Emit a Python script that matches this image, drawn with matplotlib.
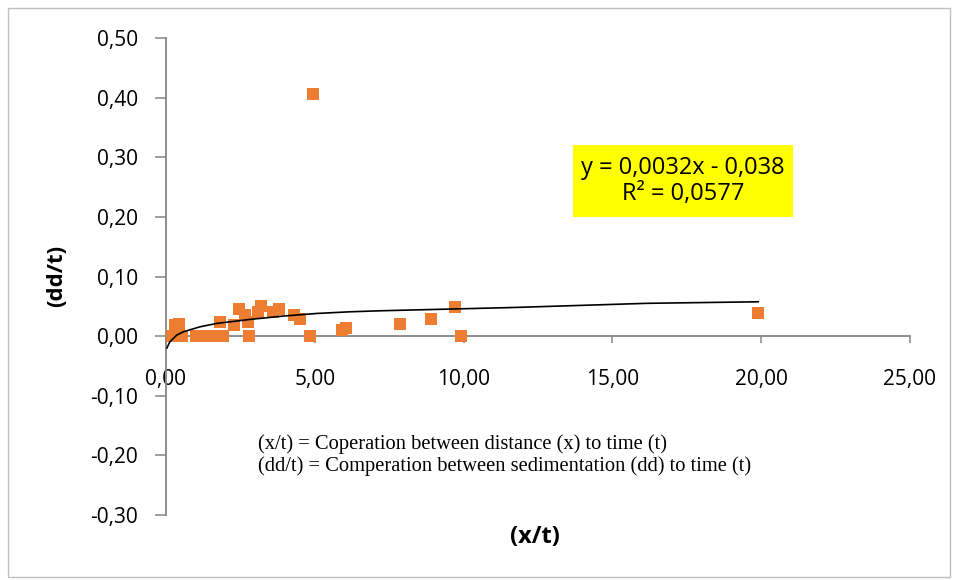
import numpy as np
import matplotlib.pyplot as plt
from matplotlib.patches import Rectangle
from matplotlib.ticker import FuncFormatter

# scatter points (x/t, dd/t)
x_vals = [0.05, 0.35, 0.55, 0.30, 0.45, 1.00, 1.20, 1.40, 1.60, 1.90, 1.80,
          2.30, 2.45, 2.65, 2.75, 2.80, 3.10, 3.20, 3.60, 3.80, 4.30, 4.50,
          4.85, 4.94, 5.90, 6.05, 7.87, 8.90, 9.70, 9.90, 19.90]
y_vals = [0.000, 0.000, 0.000, 0.018, 0.020, 0.000, 0.000, 0.000, 0.000, 0.000, 0.023,
          0.019, 0.046, 0.035, 0.024, 0.000, 0.040, 0.050, 0.040, 0.045, 0.035, 0.029,
          0.000, 0.406, 0.010, 0.013, 0.020, 0.029, 0.049, 0.000, 0.039]

# trend curve
trend_x = [0.03, 0.13, 0.36, 0.58, 1.14, 1.70, 2.82, 3.93, 5.06, 6.18, 7.19, 11.66, 16.15, 19.90]
trend_y = [-0.020, -0.0096, 0.0017, 0.0072, 0.0156, 0.0213, 0.028, 0.0336, 0.038, 0.0408,
           0.0425, 0.048, 0.055, 0.0576]

x_ticks = [0, 5, 10, 15, 20, 25]
y_ticks = [-0.3, -0.2, -0.1, 0.0, 0.1, 0.2, 0.3, 0.4, 0.5]

equation = "y = 0,0032x - 0,038\nR² = 0,0577"
note_lines = ["(x/t) = Coperation between distance (x) to time (t)",
              "(dd/t) = Comperation between sedimentation (dd) to time (t)"]

fig = plt.figure(figsize=(9.57, 5.80), dpi=100)
ax = fig.add_axes([166/957, 1 - 515/580, (910 - 166)/957, (515 - 38)/580])

ax.scatter(x_vals, y_vals, marker='s', s=85, color='#ED7D31', linewidths=0, zorder=3)
ax.plot(trend_x, trend_y, color='black', lw=1.2, zorder=4)

ax.set_xlim(0, 25)
ax.set_ylim(-0.3, 0.5)
ax.set_xticks(x_ticks)
ax.set_yticks(y_ticks)

comma = FuncFormatter(lambda v, p: f"{v:.2f}".replace('.', ','))
ax.xaxis.set_major_formatter(comma)
ax.yaxis.set_major_formatter(comma)

for s in ['top', 'right']:
    ax.spines[s].set_visible(False)
ax.spines['bottom'].set_position(('data', 0))
for s in ['left', 'bottom']:
    ax.spines[s].set_color('#868686')
    ax.spines[s].set_linewidth(1.3)

ax.tick_params(axis='y', direction='out', length=8, width=1.1, color='#868686',
               pad=12, labelsize=15)
ax.tick_params(axis='x', direction='out', length=5, width=1.1, color='#868686',
               pad=19, labelsize=15)
for lbl in ax.get_xticklabels() + ax.get_yticklabels():
    lbl.set_fontfamily('Open Sans')

fig.text(57/957, 1 - 276/580, "(dd/t)", rotation=90, ha='center', va='center',
         fontsize=16, fontweight='bold', family='Open Sans')
fig.text(535/957, 1 - 537/580, "(x/t)", ha='center', va='center',
         fontsize=17, fontweight='bold', family='Open Sans')

fig.add_artist(Rectangle((573/957, 1 - 217/580), 220/957, 72/580,
                         transform=fig.transFigure, facecolor='#FFFF00', edgecolor='none'))
fig.text(683/957, 1 - 181/580, equation, ha='center', va='center', fontsize=17,
         family='Open Sans', linespacing=1.15)

fig.text(258/957, 1 - 444/580, note_lines[0], ha='left', va='center', fontsize=14.8,
         family='Liberation Serif')
fig.text(258/957, 1 - 466/580, note_lines[1], ha='left', va='center', fontsize=14.8,
         family='Liberation Serif')

# outer chart border
fig.add_artist(Rectangle((8/957, 3/580), 942/957, 569/580, transform=fig.transFigure,
                         facecolor='none', edgecolor='#BFBFBF', lw=1))

fig.savefig('out.png', dpi=100)
